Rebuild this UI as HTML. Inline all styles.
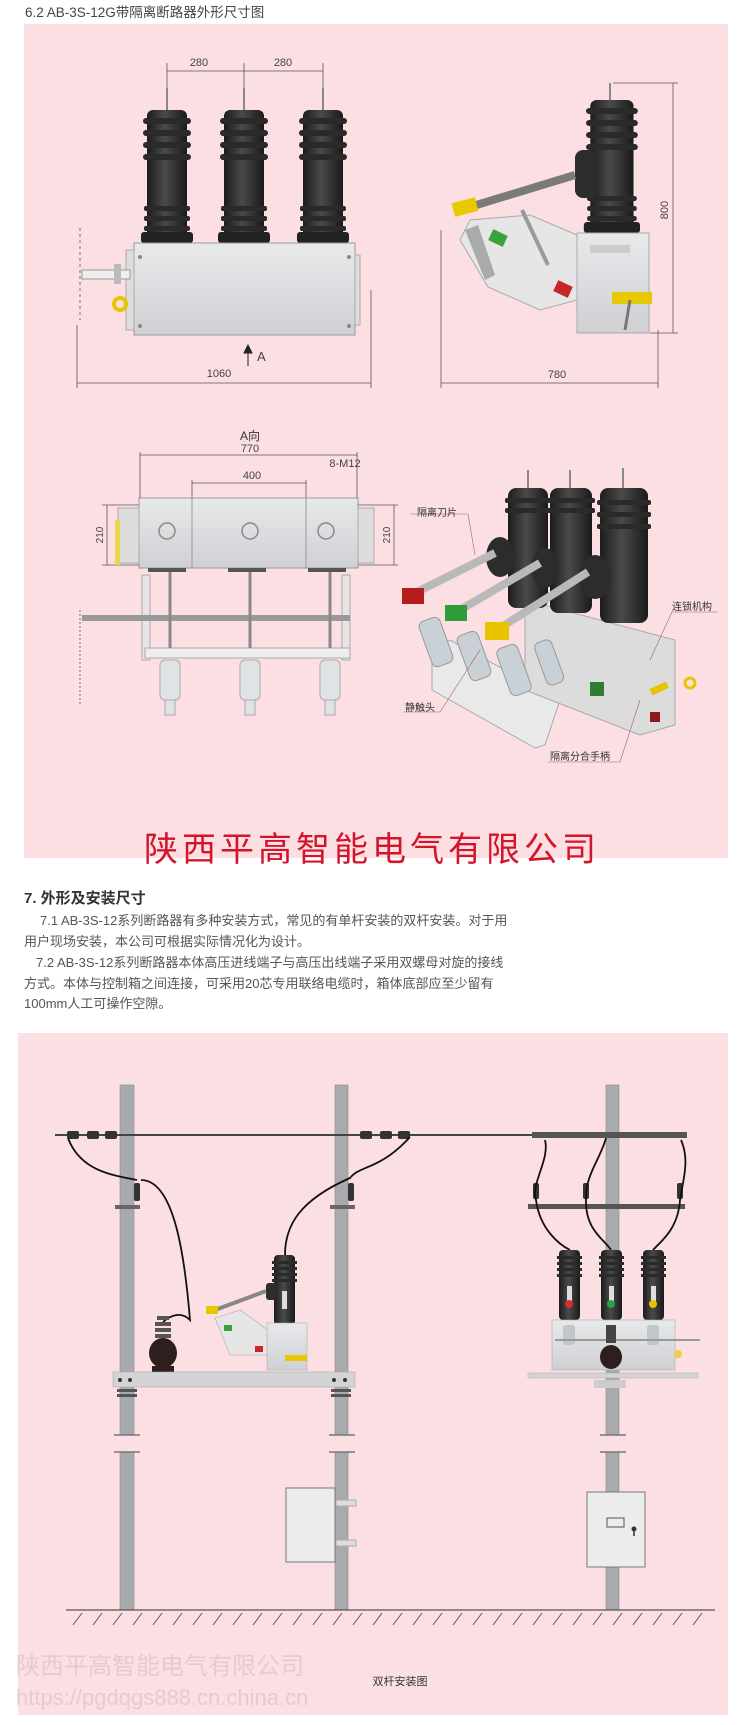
<!DOCTYPE html>
<html><head><meta charset="utf-8"><style>
html,body{margin:0;padding:0;background:#fff;width:750px;height:1725px;overflow:hidden}
svg{display:block}
text{font-family:"Liberation Sans","Noto Sans CJK SC",sans-serif}
</style></head><body>
<svg width="750" height="1725" viewBox="0 0 750 1725" xmlns="http://www.w3.org/2000/svg">
<defs>
<linearGradient id="ins" x1="0" x2="1" y1="0" y2="0">
<stop offset="0" stop-color="#1c1c1c"/><stop offset="0.45" stop-color="#4a4a4a"/><stop offset="1" stop-color="#1a1a1a"/>
</linearGradient>
<linearGradient id="box" x1="0" x2="0" y1="0" y2="1">
<stop offset="0" stop-color="#e8e9eb"/><stop offset="1" stop-color="#cfd0d3"/>
</linearGradient>
<g id="insul">
<rect x="4" y="0" width="40" height="133" rx="6" fill="url(#ins)"/>
<rect x="0" y="8" width="48" height="6" rx="3" fill="#2a2a2a"/>
<rect x="0" y="20" width="48" height="6" rx="3" fill="#2a2a2a"/>
<rect x="0" y="32" width="48" height="6" rx="3" fill="#2a2a2a"/>
<rect x="0" y="44" width="48" height="6" rx="3" fill="#2a2a2a"/>
<rect x="1" y="96" width="46" height="5" rx="2" fill="#2a2a2a"/>
<rect x="1" y="106" width="46" height="5" rx="2" fill="#2a2a2a"/>
<rect x="1" y="116" width="46" height="5" rx="2" fill="#2a2a2a"/>
<rect x="-2" y="122" width="52" height="11" rx="3" fill="#222"/>
</g>
<g id="sins">
<rect x="2" y="0" width="21" height="70" rx="4" fill="url(#ins)"/>
<rect x="0" y="6" width="25" height="3" fill="#2a2a2a"/>
<rect x="0" y="12" width="25" height="3" fill="#2a2a2a"/>
<rect x="0" y="18" width="25" height="3" fill="#2a2a2a"/>
<rect x="0" y="24" width="25" height="3" fill="#2a2a2a"/>
<rect x="10" y="36" width="5" height="18" fill="#ddd"/>
</g>
</defs>

<text x="25" y="17" font-size="13.5" fill="#444">6.2 AB-3S-12G带隔离断路器外形尺寸图</text>

<rect x="24" y="24" width="704" height="834" fill="#fcdfe3"/>

<g stroke="#555" stroke-width="0.8" fill="none">
<line x1="167" y1="63" x2="167" y2="100"/><line x1="244" y1="63" x2="244" y2="100"/><line x1="323" y1="63" x2="323" y2="100"/>
<line x1="167" y1="71" x2="323" y2="71"/>
<line x1="77" y1="325" x2="77" y2="388"/><line x1="371" y1="290" x2="371" y2="388"/>
<line x1="77" y1="383" x2="371" y2="383"/>
<line x1="441" y1="230" x2="441" y2="388"/><line x1="658" y1="330" x2="658" y2="388"/>
<line x1="441" y1="383" x2="658" y2="383"/>
<line x1="613" y1="83" x2="678" y2="83"/><line x1="650" y1="333" x2="678" y2="333"/>
<line x1="673" y1="83" x2="673" y2="333"/>
<line x1="80" y1="228" x2="80" y2="320" stroke-dasharray="3,3"/>
</g>
<g fill="#444" font-size="11">
<text x="199" y="66" text-anchor="middle">280</text>
<text x="283" y="66" text-anchor="middle">280</text>
<text x="219" y="377" text-anchor="middle">1060</text>
<text x="557" y="378" text-anchor="middle">780</text>
<text x="668" y="210" text-anchor="middle" transform="rotate(-90 668 210)">800</text>
<text x="257" y="361" font-size="13">A</text>
</g>
<path d="M248 366 V349 M244 353 L248 345 L252 353 Z" stroke="#222" fill="#222" stroke-width="1"/>

<g stroke="#888" stroke-width="2"><line x1="167" y1="88" x2="167" y2="110"/><line x1="244" y1="88" x2="244" y2="110"/><line x1="323" y1="88" x2="323" y2="110"/></g>
<use href="#insul" x="143" y="110"/><use href="#insul" x="220" y="110"/><use href="#insul" x="299" y="110"/>
<rect x="134" y="243" width="221" height="92" fill="url(#box)" stroke="#999"/>
<g fill="#888"><circle cx="140" cy="257" r="2"/><circle cx="349" cy="257" r="2"/><circle cx="140" cy="326" r="2"/><circle cx="349" cy="326" r="2"/></g>
<rect x="126" y="250" width="8" height="80" fill="#ddd" stroke="#aaa"/>
<rect x="82" y="270" width="48" height="9" fill="#eee" stroke="#999"/>
<rect x="114" y="264" width="7" height="20" fill="#bbb"/>
<circle cx="120" cy="304" r="6" fill="none" stroke="#e6c400" stroke-width="4"/>
<rect x="355" y="255" width="5" height="70" fill="#ddd" stroke="#aaa"/>

<line x1="610" y1="83" x2="610" y2="103" stroke="#888" stroke-width="2"/>
<use href="#insul" transform="translate(586 100) scale(1.08 1)"/>
<rect x="575" y="150" width="22" height="48" rx="8" fill="#2d2d2d"/>
<line x1="575" y1="175" x2="470" y2="207" stroke="#7a7a7a" stroke-width="8"/>
<rect x="453" y="200" width="24" height="14" fill="#e9c800" transform="rotate(-15 465 207)"/>
<polygon points="470,220 530,215 577,235 577,300 540,310 488,287 460,240" fill="#e6e6e6" stroke="#aaa"/>
<line x1="522" y1="210" x2="548" y2="265" stroke="#999" stroke-width="4"/>
<rect x="490" y="232" width="16" height="12" fill="#3aa23a" transform="rotate(25 498 238)"/>
<rect x="555" y="283" width="16" height="12" fill="#c62828" transform="rotate(25 563 289)"/>
<polygon points="465,230 478,225 495,275 485,280" fill="#aaa"/>
<rect x="577" y="233" width="72" height="100" fill="url(#box)" stroke="#aaa"/>
<rect x="590" y="245" width="40" height="8" fill="#ccc"/>
<rect x="612" y="292" width="40" height="12" fill="#e8c800"/>
<line x1="630" y1="300" x2="625" y2="330" stroke="#777" stroke-width="3"/>

<text x="250" y="440" font-size="12" fill="#333" text-anchor="middle">A向</text>
<text x="250" y="452" font-size="11" fill="#444" text-anchor="middle">770</text>
<text x="252" y="479" font-size="11" fill="#444" text-anchor="middle">400</text>
<text x="345" y="467" font-size="11" fill="#444" text-anchor="middle">8-M12</text>
<g stroke="#555" stroke-width="0.8" fill="none">
<line x1="140" y1="452" x2="140" y2="500"/><line x1="357" y1="452" x2="357" y2="500"/>
<line x1="140" y1="455" x2="357" y2="455"/>
<line x1="192" y1="480" x2="192" y2="505"/><line x1="306" y1="480" x2="306" y2="505"/>
<line x1="192" y1="483" x2="306" y2="483"/>
<line x1="102" y1="505" x2="140" y2="505"/><line x1="102" y1="565" x2="140" y2="565"/><line x1="107" y1="505" x2="107" y2="565"/>
<line x1="358" y1="505" x2="398" y2="505"/><line x1="358" y1="565" x2="398" y2="565"/><line x1="394" y1="505" x2="394" y2="565"/>
<line x1="224" y1="510" x2="224" y2="560"/>
<line x1="80" y1="610" x2="80" y2="705" stroke-dasharray="2,2"/>
</g>
<g fill="#444" font-size="10">
<text x="103" y="535" transform="rotate(-90 103 535)" text-anchor="middle">210</text>
<text x="390" y="535" transform="rotate(-90 390 535)" text-anchor="middle">210</text>
<text x="220" y="535" transform="rotate(-90 220 535)" text-anchor="middle">195</text>
</g>
<rect x="139" y="498" width="219" height="70" fill="url(#box)" stroke="#999"/>
<line x1="192" y1="498" x2="192" y2="568" stroke="#999"/><line x1="306" y1="498" x2="306" y2="568" stroke="#999"/>
<rect x="118" y="508" width="21" height="55" fill="#ddd" stroke="#aaa"/><rect x="358" y="508" width="16" height="55" fill="#ddd" stroke="#aaa"/>
<g fill="none" stroke="#888" stroke-width="1.5"><circle cx="167" cy="531" r="8"/><circle cx="250" cy="531" r="8"/><circle cx="326" cy="531" r="8"/></g>
<rect x="115" y="520" width="5" height="45" fill="#e8d84a"/>
<g fill="#555"><rect x="148" y="568" width="38" height="4"/><rect x="228" y="568" width="38" height="4"/><rect x="308" y="568" width="38" height="4"/></g>
<rect x="142" y="575" width="8" height="85" fill="#e5e5e5" stroke="#aaa"/><rect x="342" y="575" width="8" height="85" fill="#e5e5e5" stroke="#aaa"/>
<rect x="82" y="615" width="268" height="6" fill="#999"/>
<rect x="145" y="648" width="205" height="10" fill="#eee" stroke="#aaa"/>
<g stroke="#888" stroke-width="3"><line x1="170" y1="572" x2="170" y2="648"/><line x1="250" y1="572" x2="250" y2="648"/><line x1="330" y1="572" x2="330" y2="648"/></g>
<g fill="#dfe3e6" stroke="#aaa">
<rect x="160" y="660" width="20" height="40" rx="5"/><rect x="240" y="660" width="20" height="40" rx="5"/><rect x="320" y="660" width="20" height="40" rx="5"/>
<rect x="165" y="700" width="10" height="15"/><rect x="245" y="700" width="10" height="15"/><rect x="325" y="700" width="10" height="15"/>
</g>

<polygon points="432,652 450,640 560,700 545,745 535,748 432,690" fill="#e9e9e9" stroke="#aaa"/>
<polygon points="525,600 675,640 675,725 640,735 525,690" fill="#dcdcdc" stroke="#aaa"/>
<g fill="#c9d0d6" stroke="#999">
<rect x="425" y="618" width="22" height="48" rx="6" transform="rotate(-20 436 642)"/>
<rect x="463" y="632" width="22" height="48" rx="6" transform="rotate(-20 474 656)"/>
<rect x="503" y="645" width="22" height="50" rx="6" transform="rotate(-20 514 670)"/>
<rect x="540" y="640" width="18" height="45" rx="6" transform="rotate(-20 549 662)"/>
</g>
<g stroke="#888" stroke-width="2"><line x1="528" y1="470" x2="528" y2="490"/><line x1="570" y1="470" x2="570" y2="490"/><line x1="623" y1="468" x2="623" y2="488"/></g>
<rect x="508" y="488" width="40" height="120" rx="8" fill="url(#ins)"/>
<rect x="550" y="488" width="42" height="125" rx="8" fill="url(#ins)"/>
<rect x="600" y="488" width="48" height="135" rx="8" fill="url(#ins)"/>
<g fill="#2a2a2a"><rect x="505" y="498" width="46" height="5" rx="2"/><rect x="505" y="508" width="46" height="5" rx="2"/><rect x="547" y="498" width="48" height="5" rx="2"/><rect x="547" y="508" width="48" height="5" rx="2"/><rect x="597" y="500" width="54" height="5" rx="2"/><rect x="597" y="512" width="54" height="5" rx="2"/><rect x="597" y="524" width="54" height="5" rx="2"/></g>
<ellipse cx="500" cy="557" rx="14" ry="20" fill="#2c2c2c"/><ellipse cx="545" cy="568" rx="14" ry="20" fill="#2c2c2c"/><ellipse cx="595" cy="577" rx="16" ry="22" fill="#2c2c2c"/>
<g stroke="#b9b9b9" stroke-width="8"><line x1="495" y1="553" x2="415" y2="593"/><line x1="540" y1="563" x2="460" y2="610"/><line x1="588" y1="572" x2="500" y2="628"/></g>
<rect x="402" y="588" width="22" height="16" fill="#b71c1c"/>
<rect x="445" y="605" width="22" height="16" fill="#2e9e3a"/>
<rect x="485" y="622" width="24" height="18" fill="#e8c400"/>
<rect x="590" y="682" width="14" height="14" fill="#2e7d32"/>
<rect x="650" y="685" width="18" height="7" fill="#e8c400" transform="rotate(-25 659 688)"/>
<circle cx="690" cy="683" r="5" fill="none" stroke="#e8c400" stroke-width="3"/>
<rect x="650" y="712" width="10" height="10" fill="#8b1a1a"/>
<g stroke="#a06060" stroke-width="0.6" fill="none">
<polyline points="410,514 468,514 475,555"/>
<polyline points="718,612 672,612 650,660"/>
<polyline points="403,712 440,712 480,650"/>
<polyline points="548,762 620,762 640,700"/>
</g>
<g font-size="10" fill="#333">
<text x="417" y="516">隔离刀片</text>
<text x="672" y="610">连锁机构</text>
<text x="405" y="711">静触头</text>
<text x="550" y="760">隔离分合手柄</text>
</g>

<text x="372" y="861" font-size="34" fill="#d4142a" text-anchor="middle" letter-spacing="4" font-family="'Noto Serif CJK SC',serif">陕西平高智能电气有限公司</text>

<text x="24" y="903" font-size="15" font-weight="bold" fill="#333">7. 外形及安装尺寸</text>
<g font-size="13" fill="#555">
<text x="40" y="925">7.1 AB-3S-12系列断路器有多种安装方式，常见的有单杆安装的双杆安装。对于用</text>
<text x="24" y="946">用户现场安装，本公司可根据实际情况化为设计。</text>
<text x="36" y="967">7.2 AB-3S-12系列断路器本体高压进线端子与高压出线端子采用双螺母对旋的接线</text>
<text x="24" y="988">方式。本体与控制箱之间连接，可采用20芯专用联络电缆时，箱体底部应至少留有</text>
<text x="24" y="1008">100mm人工可操作空隙。</text>
</g>

<rect x="18" y="1033" width="710" height="682" fill="#fcdfe3"/>

<g fill="#a9aaad" stroke="#888" stroke-width="0.6">
<rect x="120" y="1085" width="14" height="350"/><rect x="120" y="1452" width="14" height="158"/>
<rect x="335" y="1085" width="13" height="350"/><rect x="335" y="1452" width="13" height="158"/>
<rect x="606" y="1085" width="13" height="350"/><rect x="606" y="1452" width="13" height="158"/>
</g>
<g stroke="#777" stroke-width="1.5">
<line x1="114" y1="1435" x2="140" y2="1435"/><line x1="114" y1="1452" x2="140" y2="1452"/>
<line x1="329" y1="1435" x2="355" y2="1435"/><line x1="329" y1="1452" x2="355" y2="1452"/>
<line x1="600" y1="1435" x2="626" y2="1435"/><line x1="600" y1="1452" x2="626" y2="1452"/>
</g>

<line x1="55" y1="1135" x2="532" y2="1135" stroke="#444" stroke-width="2"/>
<rect x="532" y="1132" width="155" height="6" fill="#555"/>
<rect x="528" y="1204" width="157" height="5" fill="#555"/>
<g fill="#333">
<rect x="67" y="1131" width="12" height="8" rx="2"/><rect x="87" y="1131" width="12" height="8" rx="2"/><rect x="105" y="1131" width="12" height="8" rx="2"/>
<rect x="360" y="1131" width="12" height="8" rx="2"/><rect x="380" y="1131" width="12" height="8" rx="2"/><rect x="398" y="1131" width="12" height="8" rx="2"/>
<rect x="134" y="1183" width="6" height="18" rx="2"/><rect x="348" y="1183" width="6" height="18" rx="2"/>
<rect x="533" y="1183" width="6" height="16" rx="2"/><rect x="583" y="1183" width="6" height="16" rx="2"/><rect x="677" y="1183" width="6" height="16" rx="2"/>
</g>
<g fill="#666"><rect x="115" y="1205" width="25" height="4"/><rect x="330" y="1205" width="25" height="4"/></g>
<g fill="none" stroke="#111" stroke-width="1.8">
<path d="M68 1138 C80 1170 110 1175 137 1180"/>
<path d="M141 1180 C175 1180 185 1260 190 1320 C182 1312 172 1314 163 1322"/>
<path d="M410 1137 C380 1170 360 1165 350 1178 C300 1200 285 1225 285 1255"/>
<path d="M545 1140 C550 1160 530 1185 536 1200 C540 1230 560 1245 570 1250"/>
<path d="M606 1138 C600 1160 585 1175 586 1200 C585 1230 605 1240 611 1250"/>
<path d="M681 1140 C690 1160 683 1180 680 1200 C678 1230 660 1242 653 1250"/>
</g>

<g fill="#555"><rect x="155" y="1322" width="16" height="4"/><rect x="155" y="1328" width="16" height="4"/><rect x="155" y="1334" width="16" height="4"/><rect x="157" y="1316" width="12" height="4"/></g>
<ellipse cx="163" cy="1353" rx="14" ry="15" fill="#2e1e1e"/>
<rect x="152" y="1366" width="22" height="6" fill="#2e1e1e"/>
<use href="#sins" x="272" y="1255"/>
<rect x="266" y="1283" width="10" height="17" rx="3" fill="#2d2d2d"/>
<line x1="266" y1="1291" x2="215" y2="1310" stroke="#888" stroke-width="4"/>
<rect x="206" y="1306" width="12" height="8" fill="#e8c800"/>
<polygon points="215,1318 240,1310 268,1330 268,1355 230,1355" fill="#e6e6e6" stroke="#aaa" stroke-width="0.6"/>
<rect x="224" y="1325" width="8" height="6" fill="#3aa23a"/><rect x="255" y="1346" width="8" height="6" fill="#c62828"/>
<rect x="267" y="1323" width="40" height="47" fill="url(#box)" stroke="#aaa" stroke-width="0.6"/>
<rect x="285" y="1355" width="22" height="6" fill="#e8c800"/>
<rect x="113" y="1372" width="242" height="15" fill="#d4d4d6" stroke="#aaa" stroke-width="0.6"/>
<g fill="#333"><circle cx="120" cy="1380" r="2"/><circle cx="130" cy="1380" r="2"/><circle cx="334" cy="1380" r="2"/><circle cx="345" cy="1380" r="2"/></g>
<g fill="#555"><rect x="117" y="1389" width="20" height="3"/><rect x="117" y="1394" width="20" height="3"/><rect x="331" y="1389" width="20" height="3"/><rect x="331" y="1394" width="20" height="3"/></g>

<use href="#sins" x="557" y="1250"/><use href="#sins" x="599" y="1250"/><use href="#sins" x="641" y="1250"/>
<circle cx="569" cy="1304" r="4" fill="#d32f2f"/><circle cx="611" cy="1304" r="4" fill="#2ea043"/><circle cx="653" cy="1304" r="4" fill="#e6c200"/>
<rect x="552" y="1320" width="123" height="50" fill="url(#box)" stroke="#aaa" stroke-width="0.6"/>
<g fill="#bfc7cc"><rect x="563" y="1325" width="12" height="20" rx="3"/><rect x="647" y="1325" width="12" height="20" rx="3"/></g>
<line x1="555" y1="1340" x2="700" y2="1340" stroke="#999" stroke-width="2"/>
<circle cx="678" cy="1354" r="4" fill="#f0d040"/>
<rect x="606" y="1325" width="10" height="18" fill="#444"/>
<ellipse cx="611" cy="1357" rx="11" ry="12" fill="#2e1e1e"/>
<rect x="528" y="1373" width="170" height="5" fill="#d4d4d6" stroke="#aaa" stroke-width="0.5"/>
<rect x="594" y="1380" width="32" height="8" fill="#ccc"/>

<rect x="286" y="1488" width="49" height="74" fill="#ececec" stroke="#777"/>
<rect x="336" y="1500" width="20" height="6" fill="#ddd" stroke="#aaa"/><rect x="336" y="1540" width="20" height="6" fill="#ddd" stroke="#aaa"/>
<rect x="587" y="1492" width="58" height="75" fill="#ececec" stroke="#777"/>
<rect x="607" y="1518" width="17" height="9" fill="none" stroke="#555"/>
<circle cx="634" cy="1529" r="2.5" fill="#333"/><line x1="634" y1="1529" x2="634" y2="1536" stroke="#333" stroke-width="1.5"/>

<line x1="66" y1="1610" x2="715" y2="1610" stroke="#555" stroke-width="1.2"/>
<g stroke="#555" stroke-width="1">
<path d="M82 1613 l-9 12 M102 1613 l-9 12 M122 1613 l-9 12 M142 1613 l-9 12 M162 1613 l-9 12 M182 1613 l-9 12 M202 1613 l-9 12 M222 1613 l-9 12 M242 1613 l-9 12 M262 1613 l-9 12 M282 1613 l-9 12 M302 1613 l-9 12 M322 1613 l-9 12 M342 1613 l-9 12 M362 1613 l-9 12 M382 1613 l-9 12 M402 1613 l-9 12 M422 1613 l-9 12 M442 1613 l-9 12 M462 1613 l-9 12 M482 1613 l-9 12 M502 1613 l-9 12 M522 1613 l-9 12 M542 1613 l-9 12 M562 1613 l-9 12 M582 1613 l-9 12 M602 1613 l-9 12 M622 1613 l-9 12 M642 1613 l-9 12 M662 1613 l-9 12 M682 1613 l-9 12 M702 1613 l-9 12"/>
</g>

<text x="16" y="1674" font-size="24" fill="#e9c9cd">陕西平高智能电气有限公司</text>
<text x="400" y="1685" font-size="11" fill="#333" text-anchor="middle">双杆安装图</text>
<text x="16" y="1705" font-size="22" fill="#e9c9cd" font-family="'Liberation Mono',monospace">https://pgdqgs888.cn.china.cn</text>
</svg>
</body></html>
